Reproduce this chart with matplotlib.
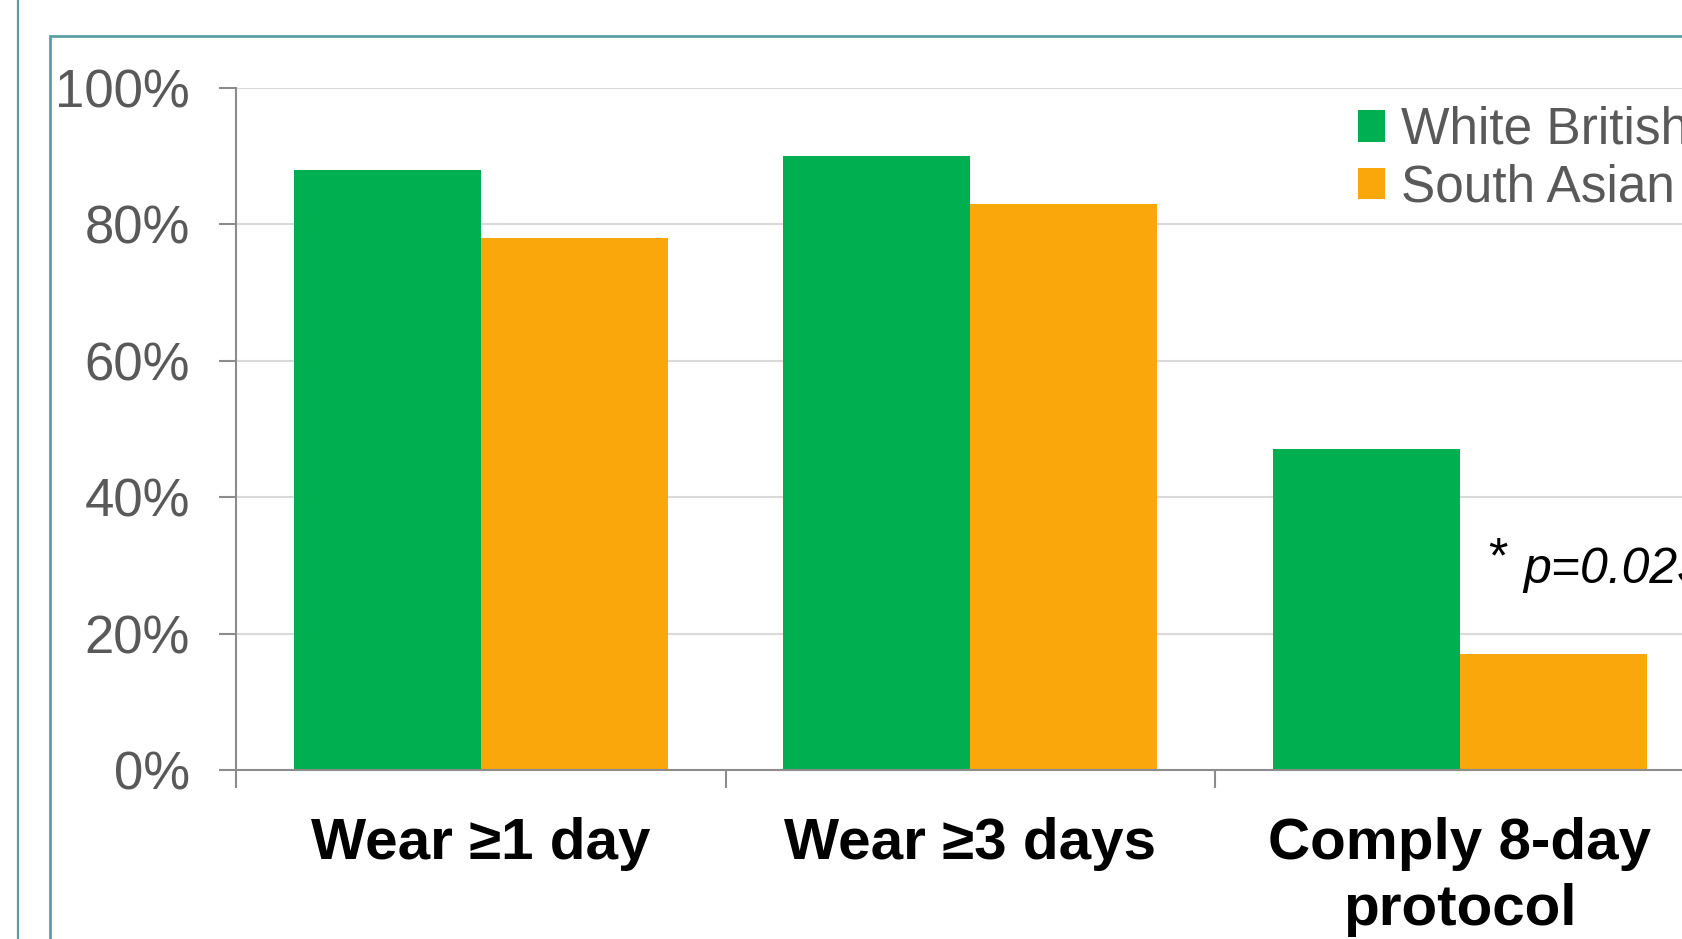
import matplotlib
matplotlib.use('Agg')
import matplotlib.pyplot as plt
from matplotlib.patches import Rectangle
from matplotlib.lines import Line2D
from matplotlib.ticker import PercentFormatter
import numpy as np

plt.rcParams['font.family'] = ['Liberation Sans', 'DejaVu Sans']

categories = ['Wear \u22651 day', 'Wear \u22653 days', 'Comply 8-day\nprotocol']
white_british = [0.88, 0.90, 0.47]
south_asian = [0.78, 0.83, 0.17]
series_names = ['White British', 'South Asian']
p_label = 'p=0.023'

GREEN = '#00B050'
ORANGE = '#FAA70B'
TEAL = '#5A9EA6'
AXIS_GREY = '#8C8C8C'
GRID_GREY = '#D9D9D9'
TEXT_GREY = '#595959'

W, H = 1683, 939
fig = plt.figure(figsize=(W / 100, H / 100), dpi=100)

# frame lines around the slide area
fig.add_artist(Line2D([18 / W, 18 / W], [0, 1], color=TEAL, lw=1.6))
fig.add_artist(Rectangle((50 / W, -0.05), 1.1, (H - 36) / H + 0.05,
                         fill=False, edgecolor=TEAL, lw=2))

ax = fig.add_axes([236 / W, (H - 770) / H, 1468.5 / W, 682 / H])

x = np.arange(len(categories))
bw = 0.382
b1 = ax.bar(x - bw / 2, white_british, bw, color=GREEN, label=series_names[0], zorder=3)
b2 = ax.bar(x + bw / 2, south_asian, bw, color=ORANGE, label=series_names[1], zorder=3)

ax.set_xlim(-0.5, len(categories) - 0.5)
ax.set_ylim(0, 1)
ax.set_yticks(np.arange(0, 1.01, 0.2))
ax.yaxis.set_major_formatter(PercentFormatter(1.0, decimals=0))
ax.yaxis.grid(True, color=GRID_GREY, lw=1.5, zorder=0)
ax.set_axisbelow(True)

for s in ['top', 'right']:
    ax.spines[s].set_visible(False)
for s in ['left', 'bottom']:
    ax.spines[s].set_color(AXIS_GREY)
    ax.spines[s].set_linewidth(1.5)
    ax.spines[s].set_zorder(4)

ax.tick_params(axis='y', direction='out', length=12, width=1.5, color=AXIS_GREY,
               labelsize=38, labelcolor=TEXT_GREY, pad=21)

ax.set_xticks(x)
ax.set_xticklabels(categories, fontsize=42, fontweight='bold', color='black',
                   linespacing=1.27, va='top')
ax.tick_params(axis='x', which='major', length=0, pad=34)
ax.set_xticks(np.arange(-0.5, len(categories)), minor=True)
ax.tick_params(axis='x', which='minor', direction='out', length=13, width=1.5,
               color=AXIS_GREY)

leg = ax.legend(handles=[b1, b2], loc='upper left',
                bbox_to_anchor=(1358 / W, 1 - 106 / H), bbox_transform=fig.transFigure,
                frameon=False, fontsize=37, labelcolor=TEXT_GREY,
                handlelength=0.53, handleheight=0.57, handletextpad=0.3,
                labelspacing=0.17, borderpad=0, borderaxespad=0)

# significance note next to the last group
fig.text(1488 / W, 1 - 572 / H, '*', fontsize=36, color='black', va='baseline', ha='left')
fig.text(1523 / W, 1 - 583 / H, p_label, fontsize=36, style='italic', color='black',
         va='baseline', ha='left')

fig.savefig('out.png', dpi=100)
